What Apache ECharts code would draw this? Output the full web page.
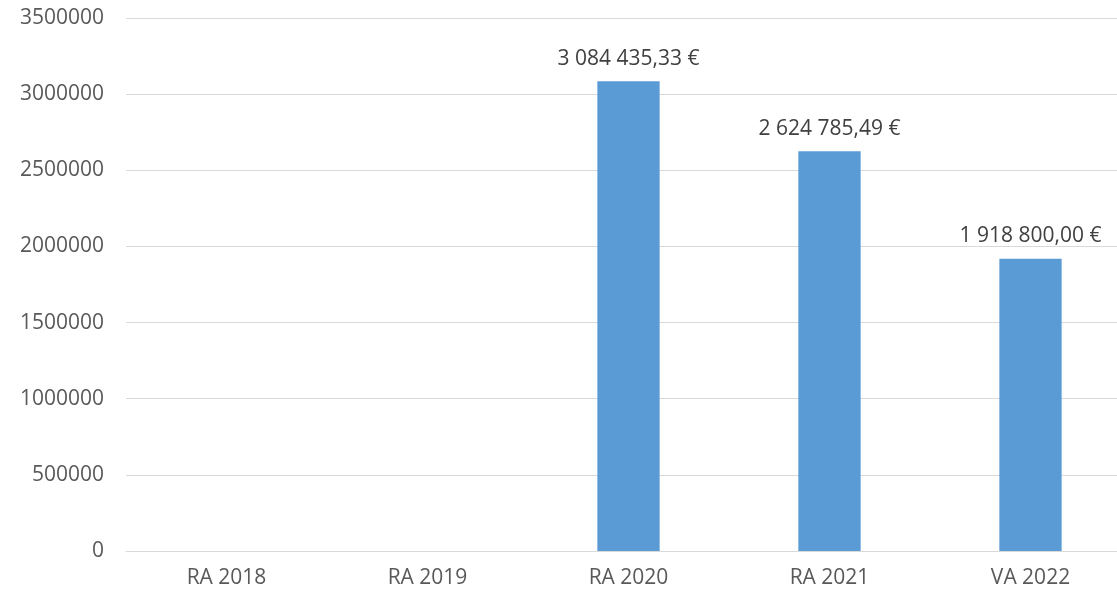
<!DOCTYPE html>
<html lang="en">
<head>
    <meta charset="UTF-8">
    <title>RA / VA</title>
    <script src="https://cdn.jsdelivr.net/npm/echarts@6/dist/echarts.min.js"></script>
    <style>
        html, body { margin: 0; padding: 0; background: #fff; overflow: hidden; }
        /* plot area runs a little past the right edge of the picture */
        #chart { width: 1131px; height: 594px; }
    </style>
</head>
<body>
<div id="chart"></div>
<script>
    var categories = ['RA 2018', 'RA 2019', 'RA 2020', 'RA 2021', 'VA 2022'];
    var values = [0, 0, 3084435.33, 2624785.49, 1918800.00];
    var yTicks = [0, 500000, 1000000, 1500000, 2000000, 2500000, 3000000, 3500000];

    // 3084435.33 -> "3 084 435,33 €"
    function euro(v) {
        var parts = v.toFixed(2).split('.');
        var int = parts[0].replace(/\B(?=(\d{3})+(?!\d))/g, ' ');
        return int + ',' + parts[1] + ' €';
    }

    var font = '"Open Sans", "Liberation Sans", sans-serif';
    var myChart = echarts.init(document.getElementById('chart'));
    var option = {
        animation: false,
        grid: {left: 126, right: 0, top: 18, bottom: 43, containLabel: false},
        xAxis: {
            type: 'category',
            data: categories,
            axisLine: {lineStyle: {color: '#d9d9d9', width: 1}},
            axisTick: {show: false},
            axisLabel: {color: '#595959', fontSize: 21, fontFamily: font, margin: 17}
        },
        yAxis: {
            type: 'value',
            min: yTicks[0],
            max: yTicks[yTicks.length - 1],
            interval: 500000,
            axisLine: {show: false},
            axisTick: {show: false},
            splitLine: {lineStyle: {color: '#d9d9d9', width: 1}},
            axisLabel: {
                color: '#595959', fontSize: 21, fontFamily: font, margin: 22,
                formatter: function (v) { return String(v); }
            }
        },
        series: [{
            type: 'bar',
            data: values,
            barWidth: '31%',
            itemStyle: {color: '#5b9bd5'},
            label: {
                show: true,
                position: 'top',
                distance: 12,
                color: '#404040',
                fontSize: 21,
                fontFamily: font,
                formatter: function (p) { return p.value ? euro(p.value) : ''; }
            }
        }]
    };
    myChart.setOption(option);
</script>
</body>
</html>
